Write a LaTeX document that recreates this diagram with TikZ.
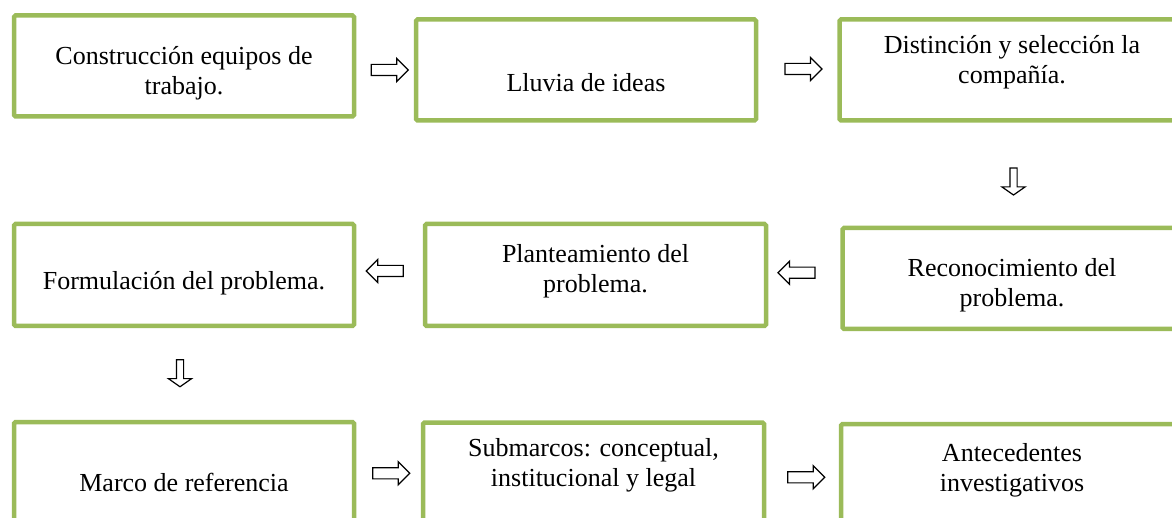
\documentclass[tikz,border=0pt]{standalone}
\usepackage{fontspec}
\setmainfont{Liberation Serif}
\usetikzlibrary{positioning,calc,shapes.arrows}
\definecolor{verde}{HTML}{9BBB59}

\begin{document}
\begin{tikzpicture}[x=1pt,y=-1pt,
            caja/.style={draw=verde, line width=4.5pt, rounded corners=1.5pt, minimum width=340pt, minimum height=101pt, inner sep=0pt},
            texto/.style={align=center, inner sep=0pt, font=\fontsize{26}{30}\selectfont},
            flecha/.style={single arrow, draw=black, fill=white, line width=1.2pt, minimum height=37pt, text height=5pt, text depth=5pt, text width=0pt, single arrow head extend=6pt, inner sep=0pt},
            bajada/.style={flecha, shape border rotate=270, minimum height=27pt, text height=0pt, text depth=0pt, text width=6pt, single arrow head extend=8pt, single arrow tip angle=110}
            ]
            \useasboundingbox (0,0) rectangle (1172,518);
            \clip (0,0) rectangle (1172,518);
            % Fila 1
            \node[caja] (b1) at (184,66) {};
            \node[caja] (b2) at (586,70) {};
            \node[caja, minimum width=341pt] (b3) at (1010,70) {};
            \node[texto] (t1) at (184,73) {Construcción equipos de\\trabajo.};
            \node[texto] (t2) at (586,83) {Lluvia de ideas};
            \node[texto] (t3) at (1012,62) {Distinción y selección la\\compañía.};
            % Fila 2
            \node[caja, minimum height=102pt] (b4) at (184,275) {};
            \node[caja, minimum height=102pt, minimum width=341pt] (b5) at (595.5,275) {};
            \node[caja, minimum width=341pt] (b6) at (1013,278.5) {};
            \node[texto] (t4) at (184,283) {Formulación del problema.};
            \node[texto] (t5) at (595.5,271) {Planteamiento del\\problema.};
            \node[texto] (t6) at (1012,285.5) {Reconocimiento del\\problema.};
            % Fila 3
            \node[caja, minimum height=102pt] (b7) at (184,473) {};
            \node[caja, minimum height=102pt, minimum width=341pt] (b8) at (593.5,473.5) {};
            \node[caja, minimum height=102pt, minimum width=342pt] (b9) at (1012,475) {};
            \node[texto] (t7) at (184,482) {Marco de referencia};
            \node[texto] (t8) at (593.5,465.5) {Submarcos: conceptual,\\institucional y legal};
            \node[texto] (t9) at (1012,470) {Antecedentes\\investigativos};
            % Flechas
            \node[flecha] (f1) at ($(b1.east)!0.5!(b2.west)+(2,2)$) {};
            \node[flecha] (f2) at ($(b2.east)!0.5!(b3.west)+(3,-1)$) {};
            \node[bajada] (f3) at ($(b3.south)!0.5!(b6.north)+(2,6)$) {};
            \node[flecha, shape border rotate=180] (f4) at ($(b6.west)!0.5!(b5.east)+(-5,-4)$) {};
            \node[flecha, shape border rotate=180] (f5) at ($(b5.west)!0.5!(b4.east)+(-2,-4)$) {};
            \node[bajada] (f6) at ($(b4.south)!0.5!(b7.north)+(-4,-2)$) {};
            \node[flecha] (f7) at ($(b7.east)!0.5!(b8.west)$) {};
            \node[flecha] (f8) at ($(b8.east)!0.5!(b9.west)+(1,3)$) {};
          \end{tikzpicture}
\end{document}
